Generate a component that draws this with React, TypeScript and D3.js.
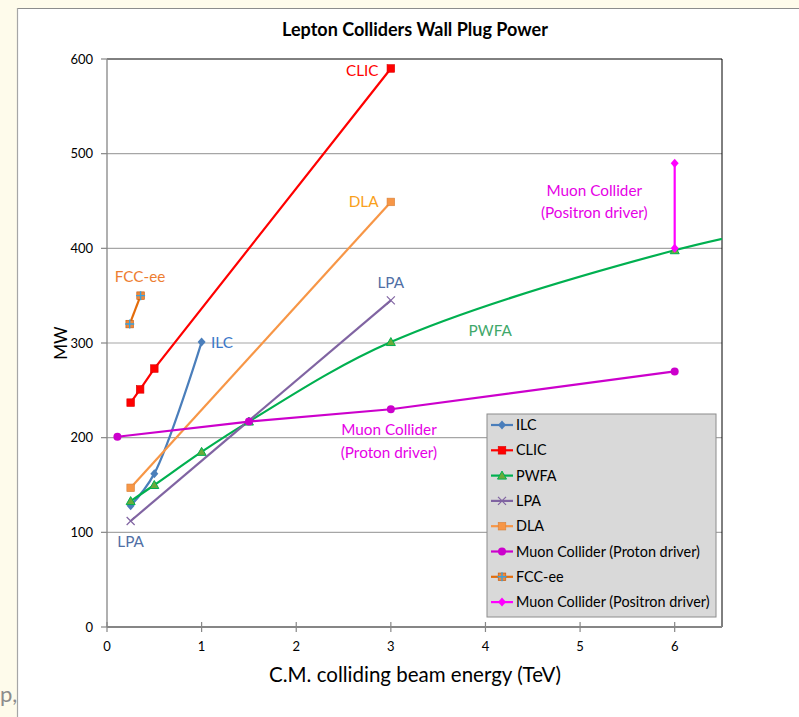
import React from "react";
import * as d3 from "d3";

// Beam energy (TeV) and wall plug power (MW) per concept
const ilcPts: [number, number][] = [[0.25, 128], [0.5, 162], [1.0, 301]];
const clicPts: [number, number][] = [[0.25, 237], [0.35, 251], [0.5, 273], [3.0, 590]];
const pwfaPts: [number, number][] = [[0.25, 133], [0.5, 150], [1.0, 185], [1.5, 217], [3.0, 301], [6.0, 398], [8.0, 440]];
const lpaPts: [number, number][] = [[0.25, 112], [3.0, 345]];
const dlaPts: [number, number][] = [[0.25, 147], [3.0, 449]];
const muonProtonPts: [number, number][] = [[0.11, 201], [1.5, 217], [3.0, 230], [6.0, 270]];
const fccPts: [number, number][] = [[0.24, 320], [0.355, 350]];
const muonPositronPts: [number, number][] = [[6.0, 400], [6.0, 490]];

const xTicks = [0, 1, 2, 3, 4, 5, 6];
const yTicks = [0, 100, 200, 300, 400, 500, 600];

type Marker = "diamond" | "square" | "triangle" | "x" | "circle" | "squarePlus";

interface Series {
  name: string;
  pts: [number, number][];
  color: string;
  fill: string;
  marker: Marker;
  smooth: boolean;
}

const series: Series[] = [
  { name: "ILC", pts: ilcPts, color: "#4a7ebb", fill: "#4a7ebb", marker: "diamond", smooth: true },
  { name: "CLIC", pts: clicPts, color: "#ff0000", fill: "#ff0000", marker: "square", smooth: false },
  { name: "PWFA", pts: pwfaPts, color: "#00b050", fill: "#6aaa3a", marker: "triangle", smooth: true },
  { name: "LPA", pts: lpaPts, color: "#8064a2", fill: "#8064a2", marker: "x", smooth: false },
  { name: "DLA", pts: dlaPts, color: "#f79646", fill: "#f79646", marker: "square", smooth: false },
  { name: "Muon Collider (Proton driver)", pts: muonProtonPts, color: "#cc00cc", fill: "#cc00cc", marker: "circle", smooth: false },
  { name: "FCC-ee", pts: fccPts, color: "#e46c0a", fill: "#f0883a", marker: "squarePlus", smooth: false },
  { name: "Muon Collider (Positron driver)", pts: muonPositronPts, color: "#ff00ff", fill: "#ff00ff", marker: "diamond", smooth: false },
];

// Annotation labels, anchored in data coordinates
const annotations: { text: string[]; x: number; y: number; color: string; anchor: "start" | "middle" | "end" }[] = [
  { text: ["CLIC"], x: 2.87, y: 588, color: "#ff0000", anchor: "end" },
  { text: ["DLA"], x: 2.87, y: 449, color: "#f9a01b", anchor: "end" },
  { text: ["LPA"], x: 3.0, y: 364, color: "#4f6fa5", anchor: "middle" },
  { text: ["LPA"], x: 0.25, y: 90, color: "#4f6fa5", anchor: "middle" },
  { text: ["ILC"], x: 1.1, y: 300, color: "#3a78c9", anchor: "start" },
  { text: ["FCC-ee"], x: 0.35, y: 370, color: "#ed7d31", anchor: "middle" },
  { text: ["PWFA"], x: 4.05, y: 313, color: "#3fa86a", anchor: "middle" },
  { text: ["Muon Collider", "(Proton driver)"], x: 2.98, y: 208, color: "#e600e6", anchor: "middle" },
  { text: ["Muon Collider", "(Positron driver)"], x: 5.15, y: 461, color: "#e600e6", anchor: "middle" },
];

const W = 799;
const H = 717;
const plot = { left: 107, right: 722, top: 59, bottom: 627 };
const FONT = "Lato, 'Open Sans', sans-serif";

function MarkerShape({ kind, x, y, color, fill }: { kind: Marker; x: number; y: number; color: string; fill: string }) {
  switch (kind) {
    case "diamond":
      return <path d={`M${x},${y - 4.5}L${x + 4},${y}L${x},${y + 4.5}L${x - 4},${y}Z`} fill={fill} />;
    case "square":
      return <rect x={x - 3.8} y={y - 3.8} width={7.6} height={7.6} fill={fill} stroke={d3.color(fill)!.darker(0.4).toString()} strokeWidth={0.6} />;
    case "triangle":
      return <path d={`M${x},${y - 4.5}L${x + 4.5},${y + 3.5}L${x - 4.5},${y + 3.5}Z`} fill={fill} stroke={color} strokeWidth={1} />;
    case "x":
      return (
        <path d={`M${x - 4},${y - 4}L${x + 4},${y + 4}M${x - 4},${y + 4}L${x + 4},${y - 4}`} stroke={color} strokeWidth={1.2} fill="none" />
      );
    case "circle":
      return <circle cx={x} cy={y} r={4} fill={fill} />;
    case "squarePlus":
      return (
        <g>
          <rect x={x - 3.8} y={y - 3.8} width={7.6} height={7.6} fill={fill} stroke="#c0580a" strokeWidth={0.6} />
          <path d={`M${x - 4.5},${y}L${x + 4.5},${y}M${x},${y - 4.5}L${x},${y + 4.5}`} stroke="#3aa0dc" strokeWidth={1.4} />
        </g>
      );
  }
}

export default function App() {
  const x = d3.scaleLinear().domain([0, 6.5]).range([plot.left, plot.right]);
  const y = d3.scaleLinear().domain([0, 600]).range([plot.bottom, plot.top]);

  const straight = d3.line<[number, number]>().x((d) => x(d[0])).y((d) => y(d[1]));
  const smooth = d3
    .line<[number, number]>()
    .x((d) => x(d[0]))
    .y((d) => y(d[1]))
    .curve(d3.curveCatmullRom.alpha(0.5));

  const legendX = 487;
  const legendY = 414;
  const legendW = 229;
  const legendH = 203;
  const rowH = 25.3;

  return (
    <svg width={W} height={H} style={{ position: "absolute", left: 0, top: 0, fontFamily: FONT }}>
      <defs>
        <clipPath id="plotClip">
          <rect x={plot.left} y={plot.top - 10} width={plot.right - plot.left} height={plot.bottom - plot.top + 10} />
        </clipPath>
      </defs>
      {/* slide background and chart panel */}
      <rect x={0} y={0} width={W} height={H} fill="#fefbeb" />
      <rect x={17} y={8} width={W - 17} height={H - 8} fill="#ffffff" />
      <line x1={17} y1={8.5} x2={W} y2={8.5} stroke="#8c8c8c" strokeWidth={1.2} />
      <line x1={17.5} y1={8} x2={17.5} y2={H} stroke="#a6a6a6" strokeWidth={1.2} />
      <text x={0} y={702} fontSize={22} fill="#8c8c8c" fontFamily={FONT}>p,</text>

      {/* title */}
      <text x={415} y={36} textAnchor="middle" fontSize={18} fontWeight="bold" fill="#000">
        Lepton Colliders Wall Plug Power
      </text>

      {/* gridlines */}
      {yTicks.filter((t) => t > 0 && t < 600).map((t) => (
        <line key={t} x1={plot.left} x2={plot.right} y1={y(t)} y2={y(t)} stroke="#a6a6a6" strokeWidth={1.2} />
      ))}

      {/* frame: black top/right, gray axes */}
      <line x1={plot.left} x2={plot.right} y1={plot.top} y2={plot.top} stroke="#000" strokeWidth={1} />
      <line x1={plot.right} x2={plot.right} y1={plot.top} y2={plot.bottom} stroke="#000" strokeWidth={1} />
      <line x1={plot.left} x2={plot.left} y1={plot.top} y2={plot.bottom} stroke="#868686" strokeWidth={1.3} />
      <line x1={plot.left} x2={plot.right} y1={plot.bottom} y2={plot.bottom} stroke="#868686" strokeWidth={2} />

      {/* y axis ticks */}
      {yTicks.map((t) => (
        <g key={t}>
          <line x1={plot.left - 6} x2={plot.left} y1={y(t)} y2={y(t)} stroke="#868686" strokeWidth={1.2} />
          <text x={plot.left - 14} y={y(t)} dy="0.35em" textAnchor="end" fontSize={13} fill="#000">
            {t}
          </text>
        </g>
      ))}
      {/* x axis ticks */}
      {xTicks.map((t) => (
        <g key={t}>
          <line x1={x(t)} x2={x(t)} y1={plot.bottom - 5} y2={plot.bottom + 5} stroke="#868686" strokeWidth={1.2} />
          <text x={x(t)} y={plot.bottom + 19} dy="0.35em" textAnchor="middle" fontSize={13} fill="#000">
            {t}
          </text>
        </g>
      ))}

      {/* axis titles */}
      <text x={415} y={682} textAnchor="middle" fontSize={20.5} fill="#000">
        C.M. colliding beam energy (TeV)
      </text>
      <text transform={`translate(67,${(plot.top + plot.bottom) / 2}) rotate(-90)`} textAnchor="middle" fontSize={17} fill="#000">
        MW
      </text>

      {/* series lines and markers */}
      <g clipPath="url(#plotClip)">
        {series.map((s) => (
          <path
            key={s.name}
            d={(s.smooth ? smooth : straight)(s.pts) || ""}
            fill="none"
            stroke={s.color}
            strokeWidth={2.2}
          />
        ))}
        {series.map((s) =>
          s.pts
            .filter((p) => p[0] <= 6.5)
            .map((p, i) => (
              <MarkerShape key={s.name + i} kind={s.marker} x={x(p[0])} y={y(p[1])} color={s.color} fill={s.fill} />
            ))
        )}
      </g>

      {/* annotations */}
      {annotations.map((a, i) => (
        <text key={i} x={x(a.x)} y={y(a.y)} textAnchor={a.anchor} fontSize={15.3} fill={a.color}>
          {a.text.map((line, j) => (
            <tspan key={j} x={x(a.x)} dy={j === 0 ? "0.35em" : "1.45em"}>
              {line}
            </tspan>
          ))}
        </text>
      ))}

      {/* legend */}
      <rect x={legendX} y={legendY} width={legendW} height={legendH} fill="#d9d9d9" stroke="#8c8c8c" strokeWidth={1} />
      {series.map((s, i) => {
        const cy = legendY + 11 + i * rowH;
        return (
          <g key={s.name}>
            <line x1={legendX + 4} x2={legendX + 26} y1={cy} y2={cy} stroke={s.color} strokeWidth={2.2} />
            <MarkerShape kind={s.marker} x={legendX + 15} y={cy} color={s.color} fill={s.fill} />
            <text x={legendX + 29} y={cy} dy="0.35em" fontSize={14.4} fill="#000">
              {s.name}
            </text>
          </g>
        );
      })}
    </svg>
  );
}
